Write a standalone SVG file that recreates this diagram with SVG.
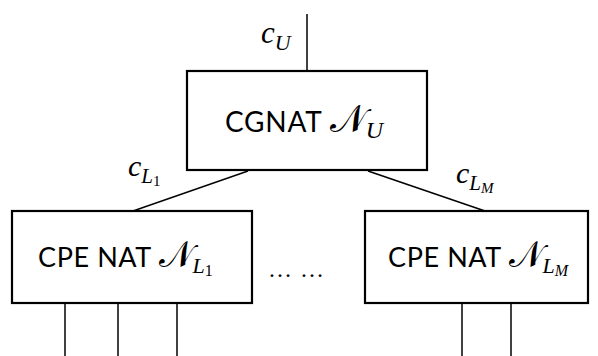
<svg xmlns="http://www.w3.org/2000/svg" width="598" height="356" viewBox="0 0 598 356">
  <style>
    .box { fill: #fff; stroke: #000; stroke-width: 2.2; }
    .wire { stroke: #000; stroke-width: 1.5; fill: none; }
    .lbl { font-family: Lato, "Open Sans", "DejaVu Sans", sans-serif; fill: #000; }
    .math { font-family: "Liberation Serif", "DejaVu Serif", serif; font-style: italic; fill: #000; }
    .up { font-style: normal; }
    .cal { font-family: "DejaVu Serif", "DejaVu Sans", serif; font-style: normal; }
  </style>
  <rect width="598" height="356" fill="#fff"/>
  <g id="connectors">
    <line class="wire" x1="307" y1="14" x2="307" y2="71"/>
    <line class="wire" x1="248" y1="171" x2="133" y2="211"/>
    <line class="wire" x1="368" y1="171" x2="485" y2="211"/>
    <line class="wire" x1="65" y1="303" x2="65" y2="356"/>
    <line class="wire" x1="118" y1="303" x2="118" y2="356"/>
    <line class="wire" x1="177" y1="303" x2="177" y2="356"/>
    <line class="wire" x1="462" y1="303" x2="462" y2="356"/>
    <line class="wire" x1="511" y1="303" x2="511" y2="356"/>
  </g>
  <g id="cgnat">
    <rect class="box" x="187" y="71" width="240" height="99"/>
    <text class="lbl" x="225" y="132" font-size="28" letter-spacing="0.8">CGNAT <tspan class="cal" font-size="38" letter-spacing="0">𝒩</tspan><tspan class="math" font-size="24" dy="6" letter-spacing="0">U</tspan></text>
  </g>
  <g id="cpe1">
    <rect class="box" x="12" y="211" width="240" height="92"/>
    <text class="lbl" x="38" y="267" font-size="27" letter-spacing="0.6">CPE NAT <tspan class="cal" font-size="36" letter-spacing="0">𝒩</tspan><tspan class="math" font-size="22" dy="6" letter-spacing="0">L</tspan><tspan class="math up" font-size="16" dy="3" letter-spacing="0">1</tspan></text>
  </g>
  <g id="cpeM">
    <rect class="box" x="365" y="211" width="223" height="92"/>
    <text class="lbl" x="388" y="267" font-size="27" letter-spacing="0.6">CPE NAT <tspan class="cal" font-size="36" letter-spacing="0">𝒩</tspan><tspan class="math" font-size="22" dy="6" letter-spacing="0">L</tspan><tspan class="math" font-size="16" dy="3" letter-spacing="0">M</tspan></text>
  </g>
  <g id="labels">
    <text class="math" x="261" y="43" font-size="31">c<tspan font-size="22" dy="7">U</tspan></text>
    <text class="math" x="128" y="176" font-size="30">c<tspan font-size="21" dy="7">L</tspan><tspan class="up" font-size="15" dy="3">1</tspan></text>
    <text class="math" x="456" y="183" font-size="30">c<tspan font-size="21" dy="7">L</tspan><tspan font-size="15" dy="3">M</tspan></text>
    <text class="math up" x="268" y="277" font-size="24" letter-spacing="1">… …</text>
  </g>
</svg>
